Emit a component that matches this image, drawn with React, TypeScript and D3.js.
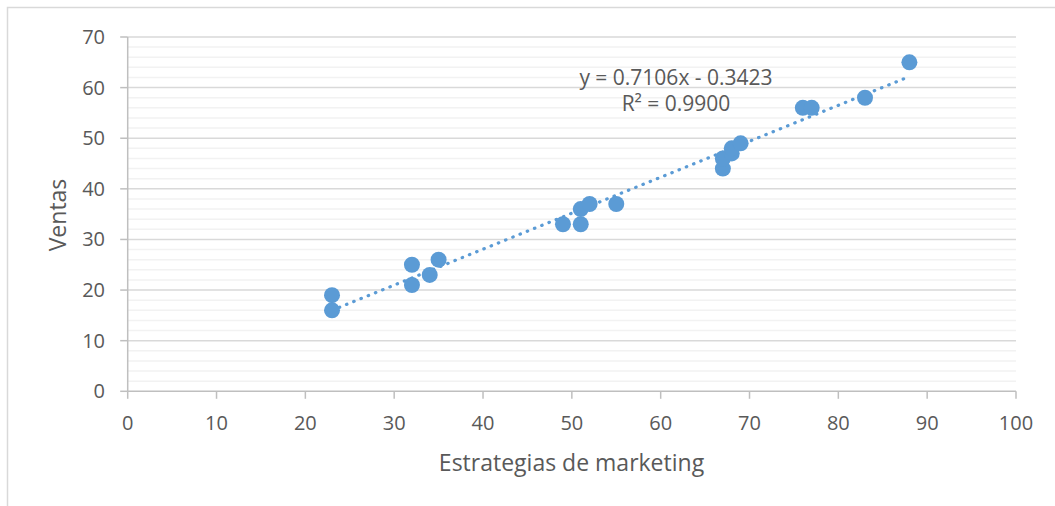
import React from 'react';
import * as d3 from 'd3';

// Estrategias de marketing (x) vs Ventas (y)
const marketing = [23, 23, 32, 32, 34, 35, 49, 51, 51, 52, 55, 67, 67, 68, 68, 69, 76, 77, 83, 88];
const ventas = [19, 16, 25, 21, 23, 26, 33, 33, 36, 37, 37, 44, 46, 47, 48, 49, 56, 56, 58, 65];

const xTicks = [0, 10, 20, 30, 40, 50, 60, 70, 80, 90, 100];
const yTicks = [0, 10, 20, 30, 40, 50, 60, 70];
const yMinorTicks = d3.range(0, 71, 2);

// linear trendline as reported
const slope = 0.7106;
const intercept = -0.3423;
const eqLabel = 'y = 0.7106x - 0.3423';
const r2Label = 'R² = 0.9900';

const W = 1055;
const H = 506;
const FONT = '"Open Sans", sans-serif';
const TEXT = '#595959';
const BLUE = '#5B9BD5';

export default function App() {
  const x = d3.scaleLinear().domain([0, 100]).range([127.7, 1016]);
  const y = d3.scaleLinear().domain([0, 70]).range([391.3, 37]);

  const pts = marketing.map((m, i) => ({ m, v: ventas[i] }));
  const xMin = d3.min(marketing)!;
  const xMax = d3.max(marketing)!;

  const trend = d3.line<number>()
    .x(d => x(d))
    .y(d => y(slope * d + intercept));

  return (
    <svg width={W} height={H} style={{ position: 'absolute', left: 0, top: 0 }} fontFamily={FONT}>
      <rect x={0} y={0} width={W} height={H} fill="#fff" />
      {/* chart frame */}
      <rect x={7.5} y={7.5} width={W + 20} height={H + 20} fill="none" stroke="#D9D9D9" strokeWidth={1.5} />

      {/* minor gridlines */}
      {yMinorTicks.filter(t => t % 10 !== 0).map(t => (
        <line key={'m' + t} x1={x(0)} x2={x(100)} y1={y(t)} y2={y(t)} stroke="#F2F2F2" strokeWidth={1.5} />
      ))}
      {/* major gridlines */}
      {yTicks.filter(t => t > 0).map(t => (
        <line key={'g' + t} x1={x(0)} x2={x(100)} y1={y(t)} y2={y(t)} stroke="#D9D9D9" strokeWidth={1.5} />
      ))}

      {/* y axis */}
      <line x1={x(0)} x2={x(0)} y1={y(0)} y2={y(70)} stroke="#BFBFBF" strokeWidth={1.5} />
      {yTicks.map(t => (
        <g key={'y' + t}>
          <line x1={x(0) - 7.5} x2={x(0)} y1={y(t)} y2={y(t)} stroke="#BFBFBF" strokeWidth={1.5} />
          <text x={105} y={y(t)} dy="0.35em" textAnchor="end" fontSize={20} fill={TEXT}>{t}</text>
        </g>
      ))}

      {/* x axis */}
      <line x1={x(0)} x2={x(100)} y1={y(0)} y2={y(0)} stroke="#BFBFBF" strokeWidth={1.5} />
      {xTicks.map(t => (
        <g key={'x' + t}>
          <line x1={x(t)} x2={x(t)} y1={y(0)} y2={y(0) + 7.5} stroke="#BFBFBF" strokeWidth={1.5} />
          <text x={x(t)} y={423} dy="0.35em" textAnchor="middle" fontSize={20} fill={TEXT}>{t}</text>
        </g>
      ))}

      {/* trendline */}
      <path d={trend([xMin, xMax])!} fill="none" stroke={BLUE} strokeWidth={3.2}
        strokeDasharray="0.5 7.3" strokeLinecap="round" />

      {/* points */}
      {pts.map((p, i) => (
        <circle key={i} cx={x(p.m)} cy={y(p.v)} r={8} fill={BLUE} />
      ))}

      {/* equation */}
      <text x={676} y={77.7} dy="0.35em" textAnchor="middle" fontSize={21} fill={TEXT}>{eqLabel}</text>
      <text x={676} y={104} dy="0.35em" textAnchor="middle" fontSize={21} fill={TEXT}>{r2Label}</text>

      {/* axis titles */}
      <text transform="translate(58,215) rotate(-90)" dy="0.35em" textAnchor="middle" fontSize={23} fill={TEXT}>Ventas</text>
      <text x={571.5} y={463} dy="0.35em" textAnchor="middle" fontSize={23} fill={TEXT}>Estrategias de marketing</text>
    </svg>
  );
}
